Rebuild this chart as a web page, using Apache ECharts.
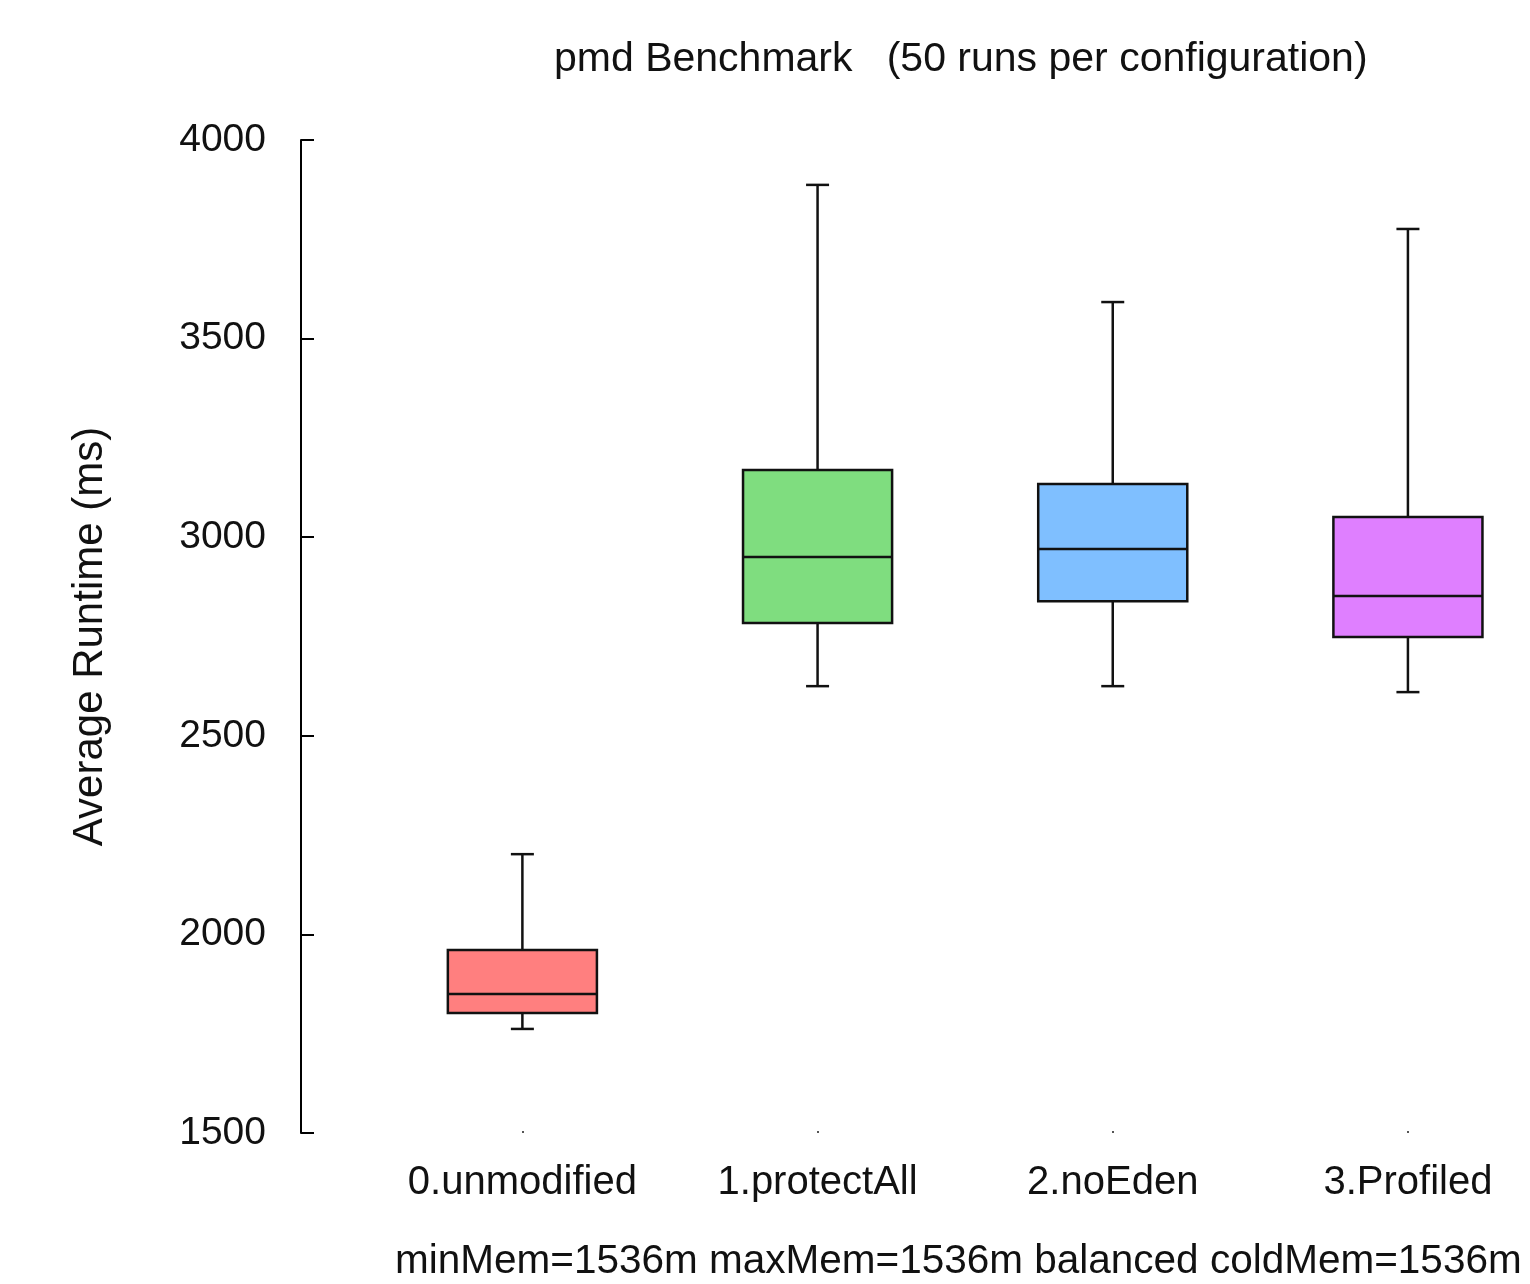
<!DOCTYPE html>
<html>
<head>
<meta charset="utf-8">
<script src="https://cdn.jsdelivr.net/npm/echarts@6/dist/echarts.min.js"></script>
<style>html,body{margin:0;padding:0;background:#fff;}#c{width:1530px;height:1284px;}</style>
</head>
<body>
<div id="c"></div>
<script>
var categories = ['0.unmodified', '1.protectAll', '2.noEden', '3.Profiled'];
var whiskerLow = [1762, 2625, 2625, 2610];
var q1 = [1802, 2784, 2839, 2749];
var median = [1850, 2950, 2970, 2852];
var q3 = [1961, 3169, 3134, 3051];
var whiskerHigh = [2202, 3887, 3592, 3776];
var boxColors = ['#ff7f7f', '#7fdd7f', '#7fbfff', '#df7fff'];

var FONT = 'Liberation Sans';
var data = categories.map(function (c, i) {
  return [i, whiskerLow[i], q1[i], median[i], q3[i], whiskerHigh[i]];
});

var chart = echarts.init(document.getElementById('c'));
chart.setOption({
  animation: false,
  backgroundColor: '#fff',
  title: [
    { text: 'pmd Benchmark   (50 runs per configuration)', left: 549, top: 34,
      textStyle: { fontFamily: FONT, fontSize: 41, fontWeight: 'normal', color: '#111' } },
    { text: 'minMem=1536m maxMem=1536m balanced coldMem=1536m', left: 390, top: 1236,
      textStyle: { fontFamily: FONT, fontSize: 40.5, fontWeight: 'normal', color: '#111' } }
  ],
  grid: { left: 301, right: 4, top: 140, bottom: 151 },
  xAxis: {
    type: 'value', min: -0.75, max: 3.4,
    axisLine: { show: false, onZero: false },
    splitLine: { show: false },
    axisTick: { show: true, customValues: [0, 1, 2, 3], length: 2, inside: true,
      lineStyle: { color: '#555', width: 2 } },
    axisLabel: { customValues: [0, 1, 2, 3], margin: 30,
      formatter: function (v) { return categories[Math.round(v)]; },
      fontFamily: FONT, fontSize: 40, color: '#111' }
  },
  yAxis: {
    type: 'value', min: 1500, max: 4000, interval: 500,
    name: 'Average Runtime (ms)', nameLocation: 'middle', nameGap: 190,
    nameTextStyle: { fontFamily: FONT, fontSize: 42, color: '#111' },
    axisLine: { show: true, onZero: false, lineStyle: { color: '#000', width: 2 } },
    axisTick: { show: true, inside: true, length: 13, lineStyle: { color: '#000', width: 2 } },
    axisLabel: { margin: 35, fontFamily: FONT, fontSize: 39, color: '#111',
      formatter: function (v) { return String(v); } },
    splitLine: { show: false }
  },
  series: [{
    type: 'custom',
    clip: false,
    data: data,
    encode: { x: 0, y: [1, 2, 3, 4, 5] },
    renderItem: function (params, api) {
      var x = api.value(0);
      var pLow = api.coord([x, api.value(1)]);
      var pQ1 = api.coord([x, api.value(2)]);
      var pMed = api.coord([x, api.value(3)]);
      var pQ3 = api.coord([x, api.value(4)]);
      var pHigh = api.coord([x, api.value(5)]);
      var bw = api.size([0.505, 0])[0];
      var cap = 23;
      var cx = pQ1[0];
      var ls = { stroke: '#111', lineWidth: 2.5, fill: null };
      return {
        type: 'group',
        children: [
          { type: 'line', shape: { x1: cx, y1: pHigh[1], x2: cx, y2: pQ3[1] }, style: ls },
          { type: 'line', shape: { x1: cx - cap / 2, y1: pHigh[1], x2: cx + cap / 2, y2: pHigh[1] }, style: ls },
          { type: 'line', shape: { x1: cx, y1: pLow[1], x2: cx, y2: pQ1[1] }, style: ls },
          { type: 'line', shape: { x1: cx - cap / 2, y1: pLow[1], x2: cx + cap / 2, y2: pLow[1] }, style: ls },
          { type: 'rect', shape: { x: cx - bw / 2, y: pQ3[1], width: bw, height: pQ1[1] - pQ3[1] },
            style: { fill: boxColors[params.dataIndex], stroke: '#111', lineWidth: 2.5 } },
          { type: 'line', shape: { x1: cx - bw / 2, y1: pMed[1], x2: cx + bw / 2, y2: pMed[1] }, style: ls }
        ]
      };
    }
  }]
});
</script>
</body>
</html>
